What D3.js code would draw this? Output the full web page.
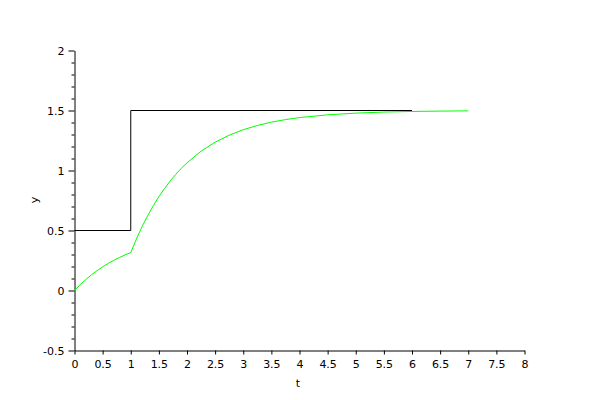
<!DOCTYPE html>
<html><head><meta charset="utf-8">
<script src="https://cdn.jsdelivr.net/npm/d3@7"></script>
<style>body{margin:0;background:#fff}svg{display:block}text{font-family:"DejaVu Sans",sans-serif;font-size:11px;fill:#000}</style>
</head><body><svg id="c" width="600" height="400"></svg>
<script>
// Data
const stepT = [0, 1, 1, 6];
const stepY = [0.5, 0.5, 1.5, 1.5];
const respT = [0,0.1,0.2,0.3,0.4,0.5,0.6,0.7,0.8,0.9,1.0,1.1,1.2,1.3,1.4,1.5,1.6,1.7,1.8,1.9,2.0,2.25,2.5,2.75,3.0,3.25,3.5,3.75,4.0,4.5,5.0,5.5,6.0,6.5,7.0];
const respY = [0,0.048,0.091,0.130,0.165,0.197,0.226,0.252,0.275,0.297,0.316,0.429,0.531,0.623,0.706,0.782,0.850,0.912,0.968,1.019,1.064,1.161,1.236,1.294,1.340,1.375,1.403,1.424,1.441,1.464,1.478,1.487,1.492,1.495,1.497];
const xTicks = [0,0.5,1,1.5,2,2.5,3,3.5,4,4.5,5,5.5,6,6.5,7,7.5,8];
const yTicks = [-0.5,0,0.5,1,1.5,2];
const yMinor = [-0.4,-0.3,-0.2,-0.1,0.1,0.2,0.3,0.4,0.6,0.7,0.8,0.9,1.1,1.2,1.3,1.4,1.6,1.7,1.8,1.9];

const svg = d3.select("#c");
const x = d3.scaleLinear().domain([0,8]).range([74.5,524.5]);
const y = d3.scaleLinear().domain([-0.5,2]).range([350.5,50.5]);
const fmt = d => String(d);

// axes
const gx = svg.append("g").attr("transform","translate(0,350.5)")
  .call(d3.axisBottom(x).tickValues(xTicks).tickFormat(fmt).tickSize(4).tickSizeOuter(0).tickPadding(6));
const gy = svg.append("g").attr("transform","translate(74.5,0)")
  .call(d3.axisLeft(y).tickValues(yTicks).tickFormat(fmt).tickSize(6).tickSizeOuter(0).tickPadding(4));
svg.append("g").attr("transform","translate(74.5,0)")
  .call(d3.axisLeft(y).tickValues(yMinor).tickFormat("").tickSize(3).tickSizeOuter(0))
  .select(".domain").remove();
svg.selectAll(".domain").attr("stroke","#000");
svg.selectAll(".tick line").attr("stroke","#000");
svg.selectAll(".tick text").style("font-family","DejaVu Sans").style("font-size","11px").attr("fill","#000");

// axis titles
svg.append("text").attr("x",298).attr("y",387).attr("text-anchor","middle").text("t");
svg.append("text").attr("transform","translate(38,200) rotate(-90)").attr("text-anchor","middle").text("y");

const line = d3.line().x(d=>x(d[0])).y(d=>y(d[1]));
svg.append("path").datum(stepT.map((t,i)=>[t,stepY[i]]))
  .attr("d",line).attr("fill","none").attr("stroke","#000").attr("stroke-width",1);
svg.append("path").datum(respT.map((t,i)=>[t,respY[i]]))
  .attr("d",line).attr("fill","none").attr("stroke","#00ff00").attr("stroke-width",1);
</script></body></html>
